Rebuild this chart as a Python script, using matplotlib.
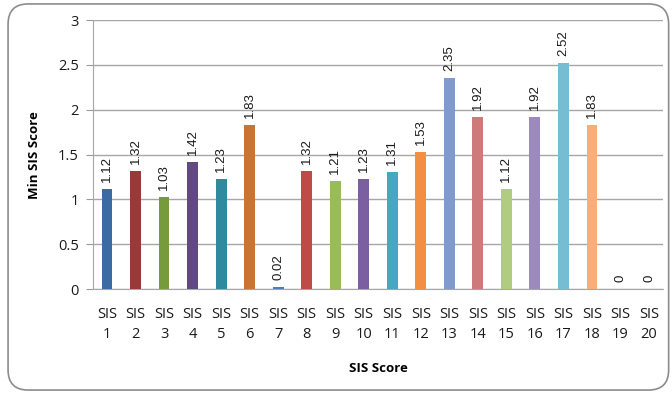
import matplotlib.pyplot as plt
from matplotlib.patches import FancyBboxPatch

categories = [f"SIS\n{i}" for i in range(1, 21)]
values = [1.12, 1.32, 1.03, 1.42, 1.23, 1.83, 0.02, 1.32, 1.21, 1.23,
          1.31, 1.53, 2.35, 1.92, 1.12, 1.92, 2.52, 1.83, 0, 0]
labels = ["1.12", "1.32", "1.03", "1.42", "1.23", "1.83", "0.02", "1.32", "1.21", "1.23",
          "1.31", "1.53", "2.35", "1.92", "1.12", "1.92", "2.52", "1.83", "0", "0"]
colors = ["#3C6AA3", "#973A38", "#779A3D", "#624A80", "#3189A0", "#CB7432",
          "#4A7EBB", "#BE4B48", "#9ABB59", "#7C5FA0", "#45A7C2", "#F28F43",
          "#7E9BCB", "#CE7A7A", "#B0CC7E", "#9D8ABD", "#76BCD3", "#F8AD7A",
          "#4F81BD", "#C0504D"]

fig = plt.figure(figsize=(6.72, 3.94), dpi=100)
ax = fig.add_axes([0.138, 0.266, 0.849, 0.683])

# rounded chart frame
frame = FancyBboxPatch((0.012, 0.01), 0.983, 0.98, boxstyle="round,pad=0,rounding_size=0.03",
                       transform=fig.transFigure, fill=False, edgecolor="#8C8C8C",
                       linewidth=1.2, mutation_aspect=672 / 394)
fig.patches.append(frame)

x = range(len(values))
ax.bar(x, values, width=0.38, color=colors, zorder=3)

for xi, v, lab in zip(x, values, labels):
    ax.annotate(lab, (xi, v), xytext=(0, 5), textcoords="offset points",
                rotation=90, ha="center", va="bottom", fontsize=9.5,
                family="Liberation Sans", color="#1A1A1A")

ax.set_xlim(-0.5, 19.5)
ax.set_ylim(0, 3)
ax.set_yticks([0, 0.5, 1, 1.5, 2, 2.5, 3])
ax.set_yticklabels(["0", "0.5", "1", "1.5", "2", "2.5", "3"])
ax.set_xticks(list(x))
ax.set_xticklabels(categories, fontsize=10.5, family="Open Sans", linespacing=1.45,
                   color="#1A1A1A")
ax.tick_params(axis="y", labelsize=10.5, length=5, color="#999999", pad=5,
               labelcolor="#1A1A1A")
ax.tick_params(axis="x", length=0, pad=13)
for t in ax.get_yticklabels():
    t.set_family("Open Sans")

ax.grid(axis="y", color="#A6A6A6", linewidth=1, zorder=0)
for side in ["top", "right"]:
    ax.spines[side].set_visible(False)
ax.spines["left"].set_color("#A6A6A6")
ax.spines["bottom"].set_color("#A6A6A6")

ax.set_xlabel("SIS Score", fontsize=9.5, fontweight="bold", family="Open Sans", labelpad=14)
ax.set_ylabel("Min SIS Score", fontsize=9.5, fontweight="bold", family="Open Sans", labelpad=12)

fig.savefig("out.png", dpi=100)
